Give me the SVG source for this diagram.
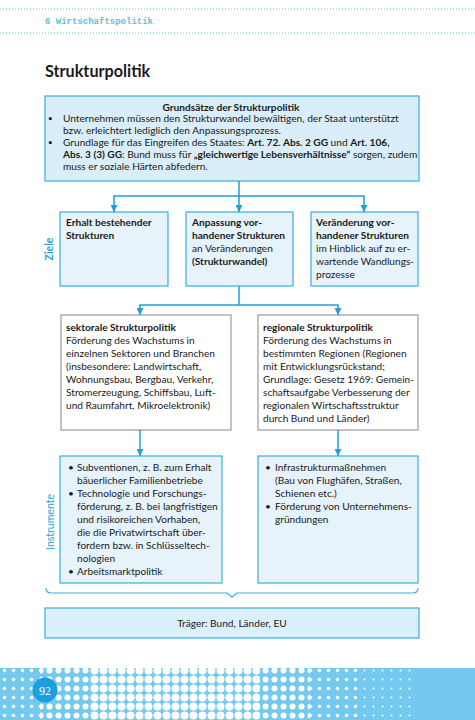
<svg xmlns="http://www.w3.org/2000/svg" width="475" height="720" viewBox="0 0 475 720">
<defs>
<style>
.t{font-family:Lato,"Liberation Sans",sans-serif;font-size:10.15px;fill:#1a1a1a}
.b{font-weight:bold}
.box{fill:#e6f3fb;stroke:#3aafd9;stroke-width:1.2}
.wbox{fill:#ffffff;stroke:#9a9a9a;stroke-width:1.2}
.con{fill:none;stroke:#1e9fd8;stroke-width:1.5}
.side{font-family:Lato,"Liberation Sans",sans-serif;font-size:10.5px;fill:#2a9fd6}
.hdr{fill:none;stroke:#5ec2d8;stroke-width:1.2;stroke-dasharray:1 2}
</style>
<marker id="ah" viewBox="0 0 10 10" refX="10" refY="5" markerWidth="7" markerHeight="7" markerUnits="userSpaceOnUse" orient="auto">
<path d="M0,0 L10,5 L0,10 z" fill="#1e9fd8"/>
</marker>
<pattern id="dL" width="9" height="9" patternUnits="userSpaceOnUse"><circle cx="4.5" cy="4.5" r="4" fill="#fff"/></pattern>
<pattern id="dM" width="9" height="9" patternUnits="userSpaceOnUse"><circle cx="4.5" cy="4.5" r="3" fill="#fff"/></pattern>
<pattern id="dS" width="9" height="9" patternUnits="userSpaceOnUse"><circle cx="4.5" cy="4.5" r="1.8" fill="#fff"/></pattern>
<pattern id="dXS" width="9" height="9" patternUnits="userSpaceOnUse"><circle cx="4.5" cy="4.5" r="1" fill="#fff"/></pattern>
</defs>

<g id="header">
<line class="hdr" x1="0" y1="9" x2="475" y2="9"/>
<line class="hdr" x1="0" y1="33" x2="475" y2="33"/>
<text x="45" y="24" font-family="'Liberation Mono',monospace" font-size="9" font-weight="bold" fill="#5ec2d8">6 Wirtschaftspolitik</text>
</g>

<text id="title" x="45" y="77" font-family="Lato,'Liberation Sans',sans-serif" font-size="16.2" font-weight="bold" fill="#1a1a1a">Strukturpolitik</text>

<g id="grundsaetze">
<rect x="45" y="96" width="374" height="85" fill="#d9eef9" stroke="#3aafd9" stroke-width="1.2"/>
<text class="t b" x="231" y="110.5" text-anchor="middle">Grundsätze der Strukturpolitik</text>
<text class="t" x="48" y="122.3">▪</text>
<text class="t" x="63" y="122.3">Unternehmen müssen den Strukturwandel bewältigen, der Staat unterstützt</text>
<text class="t" x="63" y="134.1">bzw. erleichtert lediglich den Anpassungsprozess.</text>
<text class="t" x="48" y="145.9">▪</text>
<text class="t" x="63" y="145.9">Grundlage für das Eingreifen des Staates: <tspan class="b">Art. 72. Abs. 2 GG</tspan> und <tspan class="b">Art. 106,</tspan></text>
<text class="t" x="63" y="157.7"><tspan class="b">Abs. 3 (3) GG</tspan>: Bund muss für <tspan class="b">„gleichwertige Lebensverhältnisse“</tspan> sorgen, zudem</text>
<text class="t" x="63" y="169.5">muss er soziale Härten abfedern.</text>
</g>

<text id="label-ziele" class="side b" transform="translate(53,249) rotate(-90)" text-anchor="middle">Ziele</text>

<g id="ziel1">
<rect class="box" x="60" y="212" width="108" height="74"/>
<text class="t b" x="66" y="226">Erhalt bestehender</text>
<text class="t b" x="66" y="239">Strukturen</text>
</g>
<g id="ziel2">
<rect class="box" x="186" y="212" width="107" height="74"/>
<text class="t b" x="192" y="226">Anpassung vor-</text>
<text class="t b" x="192" y="239">handener Strukturen</text>
<text class="t" x="192" y="252">an Veränderungen</text>
<text class="t b" x="192" y="265">(Strukturwandel)</text>
</g>
<g id="ziel3">
<rect class="box" x="311" y="212" width="107" height="74"/>
<text class="t b" x="316" y="226">Veränderung vor-</text>
<text class="t b" x="316" y="239">handener Strukturen</text>
<text class="t" x="316" y="252">im Hinblick auf zu er-</text>
<text class="t" x="316" y="265">wartende Wandlungs-</text>
<text class="t" x="316" y="278">prozesse</text>
</g>

<g id="sektoral">
<rect class="wbox" x="61" y="315" width="170" height="115"/>
<text class="t b" x="66" y="331">sektorale Strukturpolitik</text>
<text class="t" x="66" y="344">Förderung des Wachstums in</text>
<text class="t" x="66" y="357">einzelnen Sektoren und Branchen</text>
<text class="t" x="66" y="370">(insbesondere: Landwirtschaft,</text>
<text class="t" x="66" y="383">Wohnungsbau, Bergbau, Verkehr,</text>
<text class="t" x="66" y="396">Stromerzeugung, Schiffsbau, Luft-</text>
<text class="t" x="66" y="409">und Raumfahrt, Mikroelektronik)</text>
</g>
<g id="regional">
<rect class="wbox" x="258" y="315" width="160" height="115"/>
<text class="t b" x="263" y="331">regionale Strukturpolitik</text>
<text class="t" x="263" y="344">Förderung des Wachstums in</text>
<text class="t" x="263" y="357">bestimmten Regionen (Regionen</text>
<text class="t" x="263" y="370">mit Entwicklungsrückstand;</text>
<text class="t" x="263" y="383">Grundlage: Gesetz 1969: Gemein-</text>
<text class="t" x="263" y="396">schaftsaufgabe Verbesserung der</text>
<text class="t" x="263" y="409">regionalen Wirtschaftsstruktur</text>
<text class="t" x="263" y="422">durch Bund und Länder)</text>
</g>

<text id="label-instrumente" class="side" transform="translate(54,522) rotate(-90)" text-anchor="middle">Instrumente</text>

<g id="instr-sektoral">
<rect class="box" x="60" y="456" width="162" height="127"/>
<text class="t" x="68" y="471">•</text>
<text class="t" x="77" y="471">Subventionen, z. B. zum Erhalt</text>
<text class="t" x="77" y="484">bäuerlicher Familienbetriebe</text>
<text class="t" x="68" y="497">•</text>
<text class="t" x="77" y="497">Technologie und Forschungs-</text>
<text class="t" x="77" y="510">förderung, z. B. bei langfristigen</text>
<text class="t" x="77" y="523">und risikoreichen Vorhaben,</text>
<text class="t" x="77" y="536">die die Privatwirtschaft über-</text>
<text class="t" x="77" y="549">fordern bzw. in Schlüsseltech-</text>
<text class="t" x="77" y="562">nologien</text>
<text class="t" x="68" y="575">•</text>
<text class="t" x="77" y="575">Arbeitsmarktpolitik</text>
</g>
<g id="instr-regional">
<rect class="box" x="258" y="456" width="160" height="127"/>
<text class="t" x="265" y="471">•</text>
<text class="t" x="275" y="471">Infrastrukturmaßnehmen</text>
<text class="t" x="275" y="484">(Bau von Flughäfen, Straßen,</text>
<text class="t" x="275" y="497">Schienen etc.)</text>
<text class="t" x="265" y="510">•</text>
<text class="t" x="275" y="510">Förderung von Unternehmens-</text>
<text class="t" x="275" y="523">gründungen</text>
</g>

<g id="traeger">
<rect x="45" y="608" width="374" height="30" fill="#dcf0fb" stroke="#3aafd9" stroke-width="1.2"/>
<text class="t" x="232" y="627" text-anchor="middle">Träger: Bund, Länder, EU</text>
</g>

<g id="connectors">
<path class="con" d="M239,181 V196"/>
<path class="con" d="M113.3,196 H364.7"/>
<path class="con" d="M114,196 V212" marker-end="url(#ah)"/>
<path class="con" d="M239,196 V212" marker-end="url(#ah)"/>
<path class="con" d="M364,196 V212" marker-end="url(#ah)"/>
<path class="con" d="M239,286 V305"/>
<path class="con" d="M139.3,305 H338.7"/>
<path class="con" d="M140,305 V315" marker-end="url(#ah)"/>
<path class="con" d="M338,305 V315" marker-end="url(#ah)"/>
<path class="con" d="M140,430 V456" marker-end="url(#ah)"/>
<path class="con" d="M338,430 V456" marker-end="url(#ah)"/>
<path fill="none" stroke="#3aafd9" stroke-width="1.2" d="M46,588 Q46,593 51,593 H227 L232,597 L237,593 H413 Q418,593 418,588"/>
</g>

<g id="footer">
<rect x="0" y="668" width="475" height="52" fill="#74c9ef"/>
<rect x="0" y="668" width="40" height="52" fill="url(#dS)"/>
<rect x="40" y="668" width="50" height="52" fill="url(#dM)"/>
<rect x="90" y="668" width="170" height="52" fill="url(#dL)"/>
<rect x="260" y="668" width="50" height="52" fill="url(#dM)"/>
<rect x="310" y="668" width="50" height="52" fill="url(#dS)"/>
<rect x="360" y="668" width="54" height="52" fill="url(#dXS)"/>
<circle cx="45" cy="690" r="12.5" fill="#1a9fe0"/>
<text x="45" y="694.5" text-anchor="middle" font-family="'Liberation Serif',serif" font-size="12" fill="#fff">92</text>
</g>
</svg>
